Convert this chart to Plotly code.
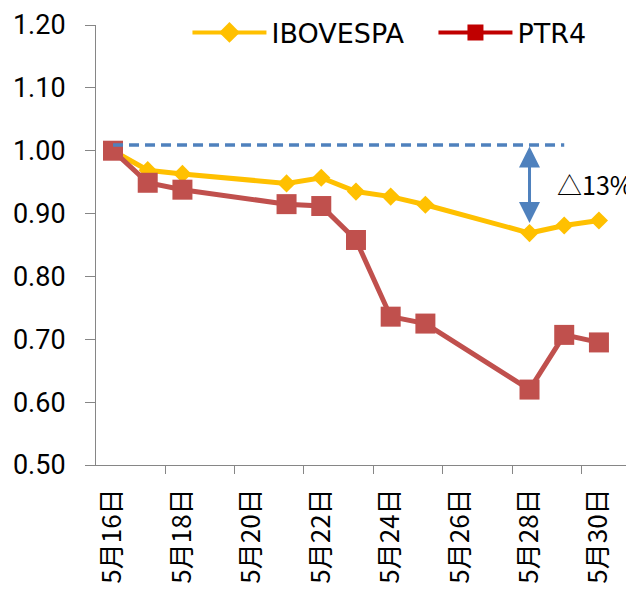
import plotly.graph_objects as go

dates = ["2012-05-16", "2012-05-17", "2012-05-18", "2012-05-21", "2012-05-22",
         "2012-05-23", "2012-05-24", "2012-05-25", "2012-05-28", "2012-05-29", "2012-05-30"]
ibovespa = [1.00, 0.969, 0.963, 0.948, 0.957, 0.935, 0.927, 0.914, 0.869, 0.881, 0.889]
ptr4 = [1.00, 0.949, 0.938, 0.915, 0.912, 0.858, 0.736, 0.725, 0.620, 0.707, 0.695]

tick_dates = ["2012-05-16", "2012-05-18", "2012-05-20", "2012-05-22",
              "2012-05-24", "2012-05-26", "2012-05-28", "2012-05-30"]
tick_labels = ["5月16日", "5月18日", "5月20日", "5月22日",
               "5月24日", "5月26日", "5月28日", "5月30日"]
y_ticks = [0.5, 0.6, 0.7, 0.8, 0.9, 1.0, 1.1, 1.2]

ref_level = 1.009
ref_start = "2012-05-16"
ref_end = "2012-05-29"
gap_date = "2012-05-28"
gap_low = 0.885
gap_text = "△13%"

AXIS = "#868686"
YELLOW = "#FFC000"
RED = "#C0504D"
LEG_RED = "#C00000"
BLUE = "#4F81BD"

fig = go.Figure()
fig.add_trace(go.Scatter(x=dates, y=ibovespa, mode="lines+markers", showlegend=False,
                         line=dict(color=YELLOW, width=5),
                         marker=dict(symbol="diamond", size=14, color=YELLOW)))
fig.add_trace(go.Scatter(x=dates, y=ptr4, mode="lines+markers", showlegend=False,
                         line=dict(color=RED, width=5),
                         marker=dict(symbol="square", size=20, color=RED)))
# legend entries
fig.add_trace(go.Scatter(x=[None], y=[None], mode="lines+markers", name="IBOVESPA",
                         line=dict(color=YELLOW, width=4),
                         marker=dict(symbol="diamond", size=16, color=YELLOW)))
fig.add_trace(go.Scatter(x=[None], y=[None], mode="lines+markers", name="PTR4",
                         line=dict(color=LEG_RED, width=4),
                         marker=dict(symbol="square", size=16, color=LEG_RED)))

fig.add_shape(type="line", xref="x", yref="y", x0=ref_start, x1=ref_end,
              y0=ref_level, y1=ref_level, line=dict(color=BLUE, width=3.5, dash="10px,6px"))
fig.add_annotation(x=gap_date, y=gap_low, ax=gap_date, ay=ref_level, axref="x", ayref="y",
                   xref="x", yref="y", text="", showarrow=True, arrowside="end+start",
                   arrowhead=2, startarrowhead=2, arrowsize=1.4, startarrowsize=1.4,
                   arrowwidth=3, arrowcolor=BLUE)
fig.add_annotation(x=0.853, y=(ref_level + gap_low) / 2, xref="paper", yref="y",
                   text=gap_text, showarrow=False, xanchor="left", yanchor="middle",
                   font=dict(family="Noto Sans CJK JP", size=25, color="black"))

fig.update_layout(
    width=626, height=588,
    margin=dict(l=88, r=0, t=17, b=131, autoexpand=False),
    paper_bgcolor="white", plot_bgcolor="white",
    font=dict(family="Roboto", size=27, color="black"),
    legend=dict(orientation="h", x=0.17, y=0.982, xanchor="left", yanchor="middle",
                font=dict(family="DejaVu Sans", size=27, color="black"),
                itemwidth=74, entrywidth=157, bgcolor="rgba(0,0,0,0)"),
    xaxis=dict(type="date", range=["2012-05-15 12:14", "2012-05-31 00:15"],
               tickmode="array", tickvals=tick_dates, ticktext=tick_labels,
               tickangle=-90, ticks="", showgrid=False, zeroline=False,
               showline=True, linecolor=AXIS, linewidth=1,
               tickfont=dict(family="Noto Sans CJK JP", size=26, color="black"),
               ticklabelstandoff=12, automargin=False,
               minor=dict(ticks="outside", ticklen=8, tickcolor=AXIS, tickwidth=1,
                          tick0="2012-05-15 12:00", dtick=2 * 86400000, showgrid=False)),
    yaxis=dict(range=[0.5, 1.2], tickmode="array", tickvals=y_ticks, tickformat=".2f",
               ticks="outside", ticklen=10, tickcolor=AXIS, showgrid=False, zeroline=False,
               showline=True, linecolor=AXIS, linewidth=1, ticklabelstandoff=14,
               automargin=False),
)

fig.write_html("out.html")
